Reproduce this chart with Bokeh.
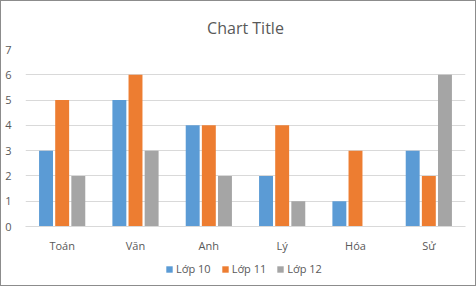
from bokeh.plotting import figure
from bokeh.layouts import column
from bokeh.models import FactorRange, Legend, LegendItem, ColumnDataSource, SingleIntervalTicker
from bokeh.transform import dodge
from bokeh.embed import file_html
from bokeh.resources import INLINE

categories = ["Toán", "Văn", "Anh", "Lý", "Hóa", "Sử"]
series_names = ["Lớp 10", "Lớp 11", "Lớp 12"]
lop10 = [3, 5, 4, 2, 1, 3]
lop11 = [5, 6, 4, 4, 3, 2]
lop12 = [2, 3, 2, 1, 0, 6]
colors = ["#5B9BD5", "#ED7D31", "#A5A5A5"]

FONT = "Open Sans"
TXT = "#595959"

src = ColumnDataSource(dict(cat=categories, l10=lop10, l11=lop11, l12=lop12))

p = figure(width=474, height=254, x_range=FactorRange(*categories), y_range=(0, 7),
           output_backend="svg", toolbar_location=None,
           min_border_left=24, min_border_right=10, min_border_top=48, min_border_bottom=27)

p.title.text = "Chart Title"
p.title.align = "center"
p.title.vertical_align = "top"
p.title.text_font = FONT
p.title.text_font_size = "16px"
p.title.text_font_style = "normal"
p.title.text_color = TXT
p.title.standoff = 18

w = 0.19
offs = [-0.22, 0.0, 0.22]
cols = ["l10", "l11", "l12"]
for c, o, col in zip(cols, offs, colors):
    p.vbar(x=dodge("cat", o, range=p.x_range), top=c, width=w, source=src,
           fill_color=col, line_color=None)

p.x_range.range_padding = 0
p.outline_line_color = None
p.xgrid.grid_line_color = None
p.ygrid.grid_line_color = "#D9D9D9"
p.yaxis.ticker = SingleIntervalTicker(interval=1)
p.yaxis.axis_line_color = None
p.yaxis.major_tick_line_color = None
p.yaxis.minor_tick_line_color = None
p.yaxis.major_label_standoff = 8
p.xaxis.axis_line_color = "#D9D9D9"
p.xaxis.major_tick_line_color = None
p.xaxis.major_label_standoff = 5
for ax in (p.xaxis, p.yaxis):
    ax.major_label_text_font = FONT
    ax.major_label_text_font_size = "11px"
    ax.major_label_text_color = TXT

# legend strip below the chart
p2 = figure(width=474, height=30, x_range=FactorRange(*categories), y_range=(100, 101),
            output_backend="svg", toolbar_location=None,
            min_border_left=0, min_border_right=0, min_border_top=0, min_border_bottom=0)
p2.axis.visible = False
p2.grid.visible = False
p2.outline_line_color = None
leg_renderers = []
for c, col in zip(cols, colors):
    r = p2.vbar(x="cat", top=c, width=w, source=src, fill_color=col, line_color=None)
    leg_renderers.append(r)

legend = Legend(items=[LegendItem(label=n, renderers=[r]) for n, r in zip(series_names, leg_renderers)],
                orientation="horizontal", location=(140, 9),
                label_text_font=FONT, label_text_font_size="11px", label_text_color=TXT,
                glyph_width=8, glyph_height=8, spacing=10, label_standoff=3,
                border_line_color=None, background_fill_alpha=0, padding=2, margin=0)
p2.add_layout(legend, "center")

layout = column(p, p2, spacing=0, styles={"border": "1px solid #8C8C8C"})

open("out.html", "w").write(file_html(layout, INLINE))
